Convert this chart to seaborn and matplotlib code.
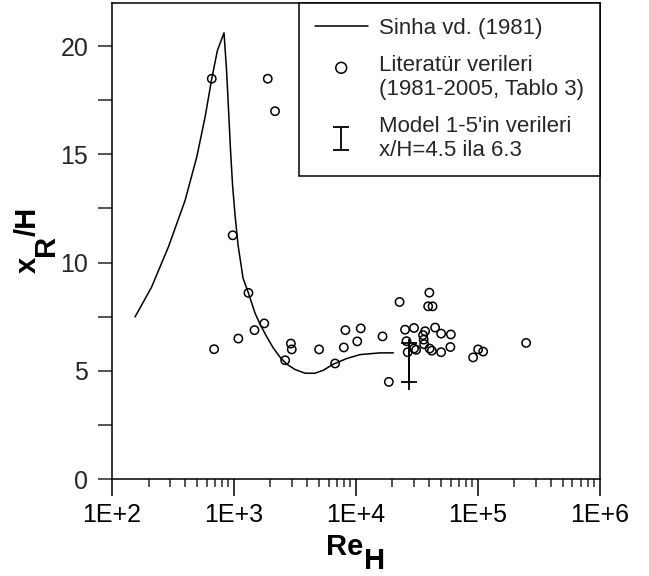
import numpy as np
import pandas as pd
import matplotlib
matplotlib.use('Agg')
import matplotlib.pyplot as plt
import matplotlib.ticker as mticker
import seaborn as sns

# Sinha vd. (1981) curve
sinha_re = [155, 212, 291, 399, 497, 582, 660, 734, 832, 873, 907, 941, 978,
            1025, 1085, 1192, 1318, 1495, 1643, 1865, 2113, 2398, 2721, 3184,
            3846, 4645, 5433, 6562, 8453, 10870, 15850, 20380]
sinha_xr = [7.49, 8.87, 10.72, 12.87, 14.87, 16.72, 18.49, 19.79, 20.61, 18.87,
            17.02, 15.18, 13.57, 12.18, 10.80, 9.28, 8.60, 7.66, 7.15, 6.57,
            6.05, 5.63, 5.31, 5.06, 4.89, 4.89, 5.03, 5.31, 5.57, 5.75, 5.83, 5.83]

# literature data (1981-2005, Tablo 3)
lit_re = [660, 1900, 2180, 980, 1320, 1780, 1480, 1090, 690, 2940, 2990, 2640,
          5010, 6780, 8230, 11000, 10300, 7990, 16600, 18700, 40200, 22900,
          39300, 42700, 25400, 30100, 37100, 44800, 50200, 60300, 59800, 50200,
          26100, 26700, 30100, 35700, 36100, 36400, 40400, 42100, 91800,
          101000, 111000, 250000, 31300]
lit_xr = [18.49, 18.49, 16.99, 11.26, 8.60, 7.19, 6.88, 6.49, 6.00, 6.26, 5.99,
          5.49, 5.99, 5.34, 6.88, 6.96, 6.36, 6.08, 6.59, 4.49, 8.61, 8.18, 7.98,
          7.98, 6.90, 6.98, 6.83, 7.00, 6.72, 6.68, 6.10, 5.86, 6.37, 5.86, 6.03,
          6.65, 6.44, 6.23, 6.03, 5.93, 5.62, 5.99, 5.89, 6.29, 5.97]

# Model 1-5
model_re = 27600
model_lo = 4.5
model_hi = 6.3

labels = ['Sinha vd. (1981)',
          'Literatür verileri\n(1981-2005, Tablo 3)',
          "Model 1-5'in verileri\nx/H=4.5 ila 6.3"]

sns.set_style('ticks')
plt.rcParams['font.family'] = ['Liberation Sans', 'DejaVu Sans']

W, H = 649, 576
fig = plt.figure(figsize=(W / 100, H / 100), dpi=100)
ax = fig.add_axes([0.1723, 0.1682, 0.7515, 0.8271])

sinha = pd.DataFrame({'Re': sinha_re, 'xr': sinha_xr})
lit = pd.DataFrame({'Re': lit_re, 'xr': lit_xr})

sns.lineplot(data=sinha, x='Re', y='xr', sort=False, estimator=None,
             color='k', linewidth=1.1, label=labels[0], ax=ax)
sns.scatterplot(data=lit, x='Re', y='xr', marker='o', s=36, linewidth=1.1,
                label=labels[1], ax=ax)
pts = ax.collections[-1]
pts.set_facecolor('none')
pts.set_edgecolor('k')

ax.errorbar([model_re], [(model_lo + model_hi) / 2],
            yerr=[[(model_hi - model_lo) / 2], [(model_hi - model_lo) / 2]],
            fmt='none', ecolor='k', elinewidth=1.3, capsize=5.5, capthick=1.3,
            label=labels[2])
# bar runs a little past the end caps
ax.vlines(model_re, model_lo - 0.4, model_hi + 0.15, color='k', linewidth=1.3)

ax.set_xscale('log')
ax.set_xlim(100, 1e6)
ax.set_ylim(0, 22)

ax.xaxis.set_major_locator(mticker.LogLocator(base=10, numticks=10))
ax.xaxis.set_minor_locator(mticker.LogLocator(base=10, subs=np.arange(2, 10), numticks=20))
ax.xaxis.set_major_formatter(mticker.FuncFormatter(lambda v, p: '1E+%d' % round(np.log10(v))))
ax.xaxis.set_minor_formatter(mticker.NullFormatter())
ax.yaxis.set_major_locator(mticker.MultipleLocator(5))
ax.yaxis.set_minor_locator(mticker.MultipleLocator(2.5))

for s in ax.spines.values():
    s.set_linewidth(1.1)
    s.set_color('k')
ax.tick_params(axis='x', which='major', direction='out', length=12, width=1.1,
               labelsize=18, pad=5, colors='k')
ax.tick_params(axis='x', which='minor', direction='out', length=5.5, width=1.1)
ax.tick_params(axis='y', which='both', direction='out', length=10, width=1.1,
               labelsize=18, pad=7)
ax.set_xlabel('')
ax.set_ylabel('')

# axis titles with full-size, lowered subscripts
lab = dict(fontsize=21, fontweight='bold', color='k')
fig.text(326 / W, 1 - 555 / H, 'Re', ha='left', va='baseline', **lab)
fig.text(364 / W, 1 - 569 / H, 'H', ha='left', va='baseline', **lab)
rot = dict(rotation=90, rotation_mode='anchor', ha='left', va='baseline', **lab)
fig.text(36 / W, 1 - 273 / H, 'x', **rot)
fig.text(54 / W, 1 - 256.5 / H, 'R', **rot)
fig.text(36 / W, 1 - 235.5 / H, '/H', **rot)

h, l = ax.get_legend_handles_labels()
leg = ax.legend(h, l, loc='upper right', bbox_to_anchor=(1, 1),
                borderaxespad=0, fontsize=16, frameon=True, fancybox=False,
                edgecolor='k', framealpha=1, handlelength=2.4,
                handletextpad=0.5, borderpad=0.7, labelspacing=0.7,
                markerscale=1.3)
leg.get_frame().set_linewidth(1.1)
# put the circle next to the first line of its label
circ = leg.legend_handles[1]
off = np.asarray(circ.get_offsets(), dtype=float)
off[:, 1] += 8.5
circ.set_offsets(off)

fig.savefig('out.png', dpi=100)
